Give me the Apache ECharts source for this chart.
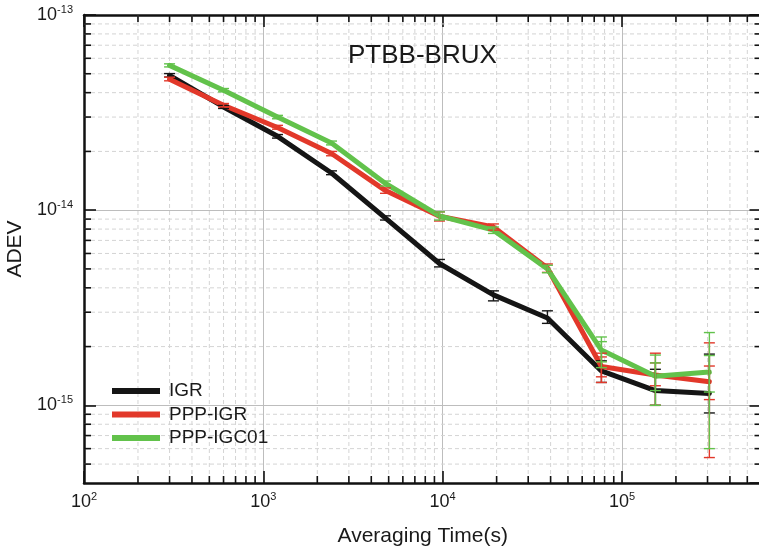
<!DOCTYPE html>
<html>
<head>
<meta charset="utf-8">
<title>PTBB-BRUX ADEV</title>
<script src="https://cdn.jsdelivr.net/npm/echarts@6/dist/echarts.min.js"></script>
<style>
  html, body { margin: 0; padding: 0; background: #ffffff; }
  #chart { width: 759px; height: 553px; }
</style>
</head>
<body>
<div id="chart"></div>
<script>
// Averaging times (s)
const tau = [300, 600, 1200, 2400, 4800, 9600, 19200, 38400, 76800, 153600, 307200];

// Allan deviation per solution
const igr      = [4.91e-14, 3.38e-14, 2.39e-14, 1.55e-14, 9.1e-15, 5.33e-15, 3.68e-15, 2.8e-15, 1.50e-15, 1.19e-15, 1.15e-15];
const pppIgr   = [4.69e-14, 3.45e-14, 2.65e-14, 1.95e-14, 1.26e-14, 9.3e-15, 8.2e-15, 5.05e-15, 1.58e-15, 1.43e-15, 1.32e-15];
const pppIgc01 = [5.52e-14, 4.12e-14, 3.0e-14, 2.21e-14, 1.37e-14, 9.35e-15, 7.9e-15, 5.0e-15, 1.92e-15, 1.41e-15, 1.48e-15];

// Error bar bounds [low, high]
const igrErr = [[4.81e-14, 5.01e-14], [3.32e-14, 3.44e-14], [2.34e-14, 2.44e-14], [1.52e-14, 1.59e-14], [8.9e-15, 9.35e-15],
  [5.12e-15, 5.59e-15], [3.43e-15, 3.86e-15], [2.63e-15, 3.05e-15], [1.31e-15, 1.69e-15], [1.0e-15, 1.53e-15], [0.914e-15, 1.83e-15]];
const pppIgrErr = [[4.6e-14, 4.8e-14], [3.38e-14, 3.52e-14], [2.6e-14, 2.72e-14], [1.90e-14, 2.0e-14], [1.22e-14, 1.30e-14],
  [8.8e-15, 9.8e-15], [7.9e-15, 8.5e-15], [4.8e-15, 5.3e-15], [1.31e-15, 1.85e-15], [1.0e-15, 1.85e-15], [0.54e-15, 2.09e-15]];
const pppIgc01Err = [[5.42e-14, 5.62e-14], [4.04e-14, 4.2e-14], [2.94e-14, 3.06e-14], [2.16e-14, 2.26e-14], [1.33e-14, 1.41e-14],
  [8.9e-15, 9.8e-15], [7.6e-15, 8.2e-15], [4.78e-15, 5.22e-15], [1.56e-15, 2.24e-15], [1.0e-15, 1.81e-15], [0.60e-15, 2.36e-15]];
// Inner error bars on the long averaging times
const pppIgrErrInner = [null, null, null, null, null, null, null, null, [1.40e-15, 1.77e-15], [1.26e-15, 1.65e-15], [1.07e-15, 1.59e-15]];
const pppIgc01ErrInner = [null, null, null, null, null, null, null, null, [1.67e-15, 2.12e-15], [1.19e-15, 1.65e-15], [1.17e-15, 1.80e-15]];

const seriesNames = ['IGR', 'PPP-IGR', 'PPP-IGC01'];
const colors = ['#151515', '#e2382a', '#62c24b'];

// Axis ranges
const X_MIN = 100, X_MAX = 6e5;
const Y_MIN = 4e-16, Y_MAX = 1e-13;
const xDecades = [1e2, 1e3, 1e4, 1e5];
const yDecades = [1e-16, 1e-15, 1e-14];

const FONT = 'Liberation Sans';

// Minor tick positions (2..9 within each decade, inside the axis range)
function minorValues(decades, lo, hi) {
  const out = [];
  decades.forEach(d => {
    for (let k = 2; k <= 9; k++) {
      const v = d * k;
      if (v > lo * 1.0001 && v < hi * 0.9999) out.push(v);
    }
  });
  return out;
}
const xMinor = minorValues(xDecades, X_MIN, X_MAX);
const yMinor = minorValues(yDecades, Y_MIN, Y_MAX);

function powLabel(v) {
  const e = Math.log10(v);
  const r = Math.round(e);
  if (Math.abs(e - r) > 1e-6) return '';
  return '{b|10}{s|' + r + '}';
}

const labelRich = {
  b: { fontFamily: FONT, fontSize: 18, color: '#1a1a1a', lineHeight: 22 },
  s: { fontFamily: FONT, fontSize: 11, color: '#1a1a1a', lineHeight: 11, verticalAlign: 'top' }
};

const MAJOR_TICK = 12, MINOR_TICK = 7;
const axisLineStyle = { color: '#111', width: 2.5 };
const tickStyle = { color: '#111', width: 1.6 };

// Minor grid lines and minor ticks along x
function renderXMinor(params, api) {
  const cs = params.coordSys;
  const x = api.coord([api.value(0), Y_MIN])[0];
  const yTop = cs.y, yBot = cs.y + cs.height;
  return {
    type: 'group',
    children: [
      { type: 'line', shape: { x1: x, y1: yTop, x2: x, y2: yBot }, style: { stroke: '#d4d4d4', lineWidth: 1, lineDash: [4, 3] } },
      { type: 'line', shape: { x1: x, y1: yBot, x2: x, y2: yBot - MINOR_TICK }, style: { stroke: '#111', lineWidth: 1.6 } },
      { type: 'line', shape: { x1: x, y1: yTop, x2: x, y2: yTop + MINOR_TICK }, style: { stroke: '#111', lineWidth: 1.6 } }
    ]
  };
}
// Minor grid lines and minor ticks along y
function renderYMinor(params, api) {
  const cs = params.coordSys;
  const y = api.coord([X_MIN, api.value(1)])[1];
  const xL = cs.x, xR = cs.x + cs.width;
  return {
    type: 'group',
    children: [
      { type: 'line', shape: { x1: xL, y1: y, x2: xR, y2: y }, style: { stroke: '#d4d4d4', lineWidth: 1, lineDash: [4, 3] } },
      { type: 'line', shape: { x1: xL, y1: y, x2: xL + MINOR_TICK, y2: y }, style: { stroke: '#111', lineWidth: 1.6 } },
      { type: 'line', shape: { x1: xR, y1: y, x2: xR - MINOR_TICK, y2: y }, style: { stroke: '#111', lineWidth: 1.6 } }
    ]
  };
}

// Error bars with caps
function makeErrRender(color) {
  return function (params, api) {
    const x = api.value(0);
    const pLo = api.coord([x, api.value(1)]);
    const pHi = api.coord([x, api.value(2)]);
    const hw = 5.5;
    const st = { stroke: color, lineWidth: 1.4 };
    return {
      type: 'group',
      children: [
        { type: 'line', shape: { x1: pLo[0], y1: pLo[1], x2: pHi[0], y2: pHi[1] }, style: st },
        { type: 'line', shape: { x1: pLo[0] - hw, y1: pLo[1], x2: pLo[0] + hw, y2: pLo[1] }, style: st },
        { type: 'line', shape: { x1: pHi[0] - hw, y1: pHi[1], x2: pHi[0] + hw, y2: pHi[1] }, style: st }
      ]
    };
  };
}
function errRows(outer, inner) {
  const rows = [];
  tau.forEach((t, i) => {
    if (outer[i]) rows.push([t, outer[i][0], outer[i][1]]);
    if (inner && inner[i]) rows.push([t, inner[i][0], inner[i][1]]);
  });
  return rows;
}

const values = [igr, pppIgr, pppIgc01];
const errs = [[igrErr, null], [pppIgrErr, pppIgrErrInner], [pppIgc01Err, pppIgc01ErrInner]];

const lineSeries = seriesNames.map((name, i) => ({
  name: name,
  type: 'line',
  data: tau.map((t, j) => [t, values[i][j]]),
  showSymbol: false,
  symbol: 'none',
  lineStyle: { color: colors[i], width: 5, join: 'round', cap: 'round' },
  itemStyle: { color: colors[i] },
  z: 3 + i,
  animation: false
}));

const errSeries = seriesNames.map((name, i) => ({
  name: name + ' err',
  type: 'custom',
  renderItem: makeErrRender(colors[i]),
  data: errRows(errs[i][0], errs[i][1]),
  encode: { x: 0, y: [1, 2] },
  z: 7 + i,
  silent: true,
  animation: false
}));

const chart = echarts.init(document.getElementById('chart'), null, { renderer: 'canvas' });

chart.setOption({
  animation: false,
  backgroundColor: '#ffffff',
  title: {
    text: 'PTBB-BRUX',
    left: 348,
    top: 43,
    padding: 0,
    textStyle: { fontFamily: FONT, fontSize: 26, fontWeight: 'normal', color: '#1a1a1a' }
  },
  legend: {
    data: seriesNames,
    orient: 'vertical',
    left: 112,
    top: 381,
    padding: 0,
    itemWidth: 48,
    itemHeight: 6,
    itemGap: 3.5,
    icon: 'rect',
    selectedMode: false,
    textStyle: { fontFamily: FONT, fontSize: 19, color: '#1a1a1a', lineHeight: 20, padding: [0, 0, 0, 4] }
  },
  grid: { left: 84, top: 15, right: -2.5, bottom: 70, containLabel: false, outerBoundsMode: 'none' },
  xAxis: [
    {
      type: 'log', logBase: 10, min: X_MIN, max: X_MAX, position: 'bottom',
      name: 'Averaging Time(s)', nameLocation: 'middle', nameGap: 43,
      nameTextStyle: { fontFamily: FONT, fontSize: 21, color: '#1a1a1a' },
      axisLine: { show: true, lineStyle: axisLineStyle },
      axisTick: { show: true, inside: true, length: MAJOR_TICK, lineStyle: tickStyle },
      axisLabel: { show: true, margin: 8, formatter: powLabel, rich: labelRich, showMaxLabel: false },
      splitLine: { show: true, lineStyle: { color: '#bdbdbd', width: 1 } }
    },
    {
      type: 'log', logBase: 10, min: X_MIN, max: X_MAX, position: 'top',
      axisLine: { show: true, lineStyle: axisLineStyle },
      axisTick: { show: true, inside: true, length: MAJOR_TICK, lineStyle: tickStyle },
      axisLabel: { show: false },
      splitLine: { show: false }
    }
  ],
  yAxis: [
    {
      type: 'log', logBase: 10, min: Y_MIN, max: Y_MAX, position: 'left',
      name: 'ADEV', nameLocation: 'middle', nameGap: 54,
      nameTextStyle: { fontFamily: FONT, fontSize: 21, color: '#1a1a1a' },
      axisLine: { show: true, lineStyle: axisLineStyle },
      axisTick: { show: true, inside: true, length: MAJOR_TICK, lineStyle: tickStyle },
      axisLabel: { show: true, margin: 11, formatter: powLabel, rich: labelRich, showMinLabel: false },
      splitLine: { show: true, lineStyle: { color: '#bdbdbd', width: 1 } }
    },
    {
      type: 'log', logBase: 10, min: Y_MIN, max: Y_MAX, position: 'right',
      axisLine: { show: true, lineStyle: axisLineStyle },
      axisTick: { show: true, inside: true, length: MAJOR_TICK, lineStyle: tickStyle },
      axisLabel: { show: false },
      splitLine: { show: false }
    }
  ],
  series: [
    {
      name: 'x minor', type: 'custom', renderItem: renderXMinor,
      data: xMinor.map(v => [v, Y_MIN]), encode: { x: 0, y: 1 }, z: 1, silent: true, animation: false
    },
    {
      name: 'y minor', type: 'custom', renderItem: renderYMinor,
      data: yMinor.map(v => [X_MIN, v]), encode: { x: 0, y: 1 }, z: 1, silent: true, animation: false
    }
  ].concat(lineSeries, errSeries)
});
</script>
</body>
</html>
